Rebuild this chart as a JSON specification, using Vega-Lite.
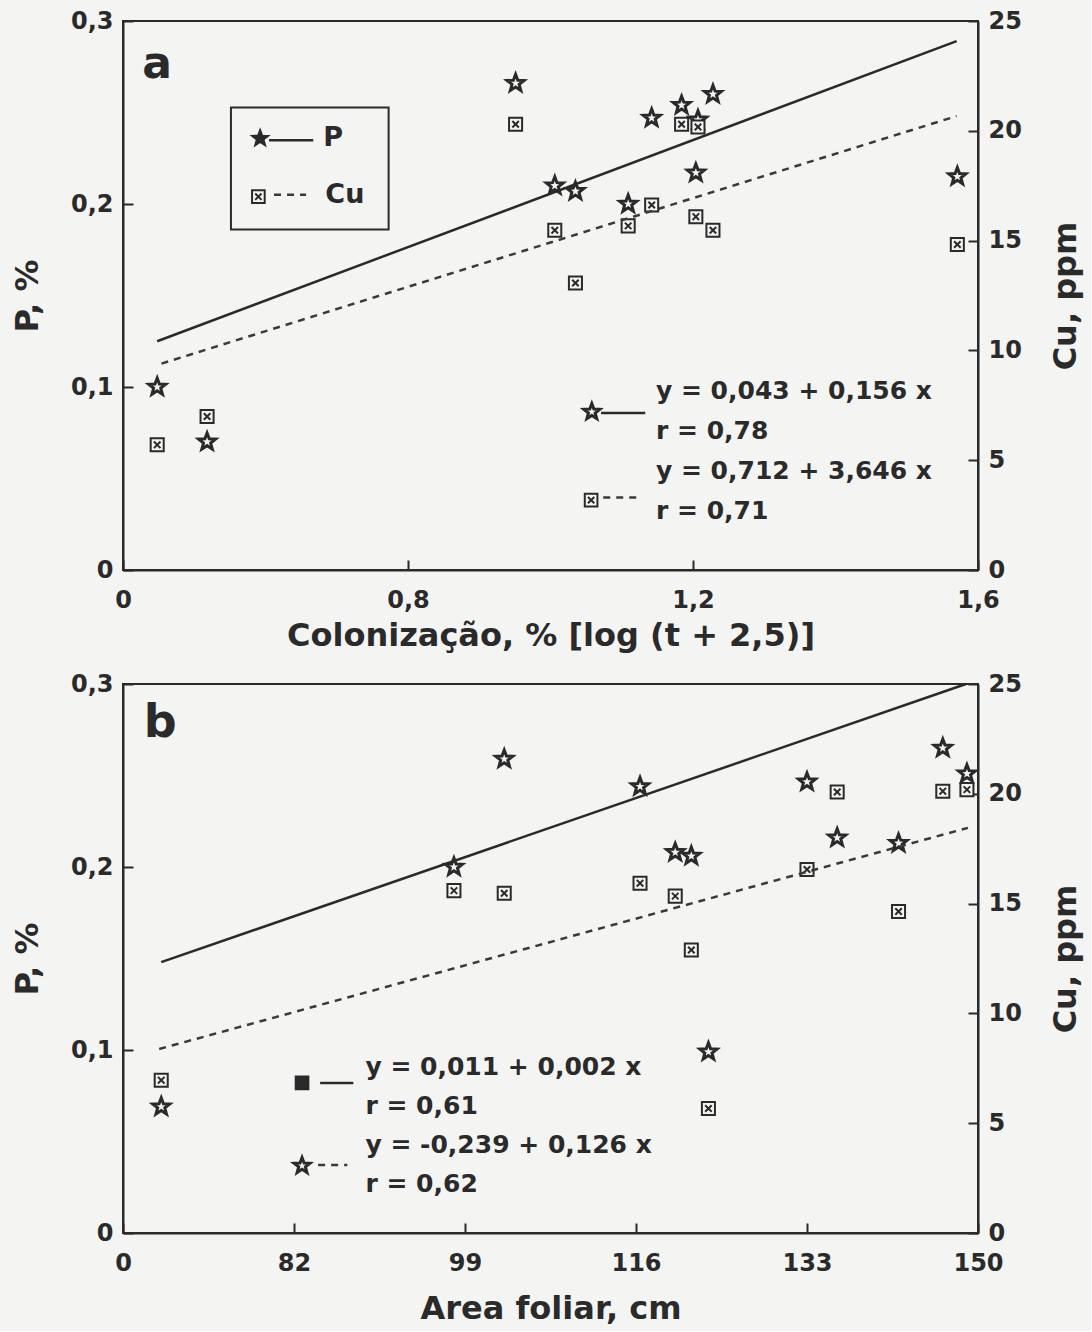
{
  "$schema": "https://vega.github.io/schema/vega-lite/v6.json",
  "background": "#f4f4f2",
  "padding": {"left": 10, "top": 8, "right": 8, "bottom": 6},
  "spacing": 19,
  "config": {
    "view": {"stroke": "#2a2a2a", "strokeWidth": 2},
    "axis": {
      "labelFont": "DejaVu Sans", "labelFontWeight": "bold", "labelFontSize": 24, "labelColor": "#2a2a2a",
      "titleFont": "DejaVu Sans", "titleFontWeight": "bold", "titleFontSize": 32, "titleColor": "#2a2a2a",
      "domainColor": "#2a2a2a", "domainWidth": 2, "tickColor": "#2a2a2a", "tickWidth": 2, "tickSize": -10,
      "grid": false, "labelFlush": false, "labelOverlap": false
    },
    "text": {"font": "DejaVu Sans", "fontWeight": "bold", "color": "#2a2a2a"}
  },
  "datasets": {
    "one": [{}],
    "a": [
      {"x": 0.448, "P": 0.100, "Cu": 5.70},
      {"x": 0.518, "P": 0.070, "Cu": 6.99},
      {"x": 0.951, "P": 0.266, "Cu": 20.3},
      {"x": 1.006, "P": 0.210, "Cu": 15.47},
      {"x": 1.035, "P": 0.207, "Cu": 13.07},
      {"x": 1.109, "P": 0.200, "Cu": 15.67},
      {"x": 1.142, "P": 0.247, "Cu": 16.62},
      {"x": 1.184, "P": 0.254, "Cu": 20.3},
      {"x": 1.204, "P": 0.217, "Cu": 16.09},
      {"x": 1.207, "P": 0.246, "Cu": 20.17},
      {"x": 1.228, "P": 0.260, "Cu": 15.47},
      {"x": 1.571, "P": 0.215, "Cu": 14.82}
    ],
    "a_fitP": [{"x": 0.448, "P": 0.125}, {"x": 1.570, "P": 0.289}],
    "a_fitCu": [{"x": 0.454, "Cu": 9.4}, {"x": 1.570, "Cu": 20.67}],
    "b": [
      {"x": 68.8, "P": 0.069, "Cu": 6.96},
      {"x": 97.9, "P": 0.200, "Cu": 15.59},
      {"x": 102.9, "P": 0.259, "Cu": 15.47},
      {"x": 116.4, "P": 0.244, "Cu": 15.93},
      {"x": 119.9, "P": 0.208, "Cu": 15.34},
      {"x": 121.5, "P": 0.206, "Cu": 12.89},
      {"x": 123.2, "P": 0.099, "Cu": 5.67},
      {"x": 133.0, "P": 0.2465, "Cu": 16.55},
      {"x": 136.0, "P": 0.216, "Cu": 20.08},
      {"x": 142.1, "P": 0.213, "Cu": 14.64},
      {"x": 146.5, "P": 0.265, "Cu": 20.12},
      {"x": 148.9, "P": 0.251, "Cu": 20.19}
    ],
    "b_fitP": [{"x": 68.8, "P": 0.148}, {"x": 148.8, "P": 0.300}],
    "b_fitCu": [{"x": 68.6, "Cu": 8.38}, {"x": 149.0, "Cu": 18.45}]
  },
  "vconcat": [
    {
      "width": 855, "height": 549,
      "resolve": {"scale": {"y": "independent"}},
      "layer": [
        {
          "layer": [
            {
              "data": {"name": "a"},
              "mark": {"type": "point", "shape": "M0,-1L0.247,-0.34L0.951,-0.309L0.399,0.13L0.588,0.809L0,0.42L-0.588,0.809L-0.399,0.13L-0.951,-0.309L-0.247,-0.34Z", "size": 320, "filled": true, "fill": "#f4f4f2", "stroke": "#2a2a2a", "strokeWidth": 3, "opacity": 1},
              "encoding": {
                "x": {"field": "x", "type": "quantitative", "scale": {"domain": [0.4, 1.6], "nice": false, "zero": false},
                  "axis": {"values": [0.4, 0.8, 1.2, 1.6], "labelExpr": "datum.value < 0.5 ? '0' : replace(format(datum.value, '.1f'), '.', ',')", "labelPadding": 28, "titlePadding": 8, "title": "Colonização, %  [log (t + 2,5)]"}},
                "y": {"field": "P", "type": "quantitative", "scale": {"domain": [0, 0.3], "nice": false},
                  "axis": {"values": [0, 0.1, 0.2, 0.3], "labelExpr": "datum.value == 0 ? '0' : replace(format(datum.value, '.1f'), '.', ',')", "labelPadding": 20, "titlePadding": 26, "title": "P, %"}}
              }
            },
            {
              "data": {"name": "a_fitP"},
              "mark": {"type": "line", "color": "#2a2a2a", "strokeWidth": 2.5},
              "encoding": {
                "x": {"field": "x", "type": "quantitative"},
                "y": {"field": "P", "type": "quantitative"}
              }
            },
            {
              "data": {"name": "one"},
              "mark": {"type": "text", "text": "a", "fontSize": 44, "align": "left", "baseline": "middle"},
              "encoding": {"x": {"datum": 0.427}, "y": {"datum": 0.276}}
            },
            {
              "data": {"name": "one"},
              "mark": {"type": "rect", "fillOpacity": 0, "stroke": "#2a2a2a", "strokeWidth": 2},
              "encoding": {"x": {"datum": 0.5515}, "x2": {"datum": 0.7728}, "y": {"datum": 0.2528}, "y2": {"datum": 0.186}}
            },
            {
              "data": {"name": "one"},
              "mark": {"type": "point", "shape": "M0,-1L0.247,-0.34L0.951,-0.309L0.399,0.13L0.588,0.809L0,0.42L-0.588,0.809L-0.399,0.13L-0.951,-0.309L-0.247,-0.34Z", "size": 280, "filled": true, "fill": "#2a2a2a", "stroke": "#2a2a2a", "strokeWidth": 2, "opacity": 1},
              "encoding": {"x": {"datum": 0.5925}, "y": {"datum": 0.2358}}
            },
            {
              "data": {"name": "one"},
              "mark": {"type": "rule", "color": "#2a2a2a", "strokeWidth": 2.5},
              "encoding": {"x": {"datum": 0.605}, "x2": {"datum": 0.667}, "y": {"datum": 0.2349}}
            },
            {
              "data": {"name": "one"},
              "mark": {"type": "text", "text": "P", "fontSize": 27, "align": "left", "baseline": "middle"},
              "encoding": {"x": {"datum": 0.681}, "y": {"datum": 0.2363}}
            },
            {
              "data": {"name": "one"},
              "mark": {"type": "point", "shape": "M-1,-1H1V1H-1Z M-0.5,-0.5L0.5,0.5 M0.5,-0.5L-0.5,0.5", "size": 160, "filled": true, "fill": "#f4f4f2", "stroke": "#2a2a2a", "strokeWidth": 2, "opacity": 1},
              "encoding": {"x": {"datum": 0.590}, "y": {"datum": 0.204}}
            },
            {
              "data": {"name": "one"},
              "mark": {"type": "rule", "color": "#3a3a3a", "strokeWidth": 2.5, "strokeDash": [7, 6]},
              "encoding": {"x": {"datum": 0.612}, "x2": {"datum": 0.657}, "y": {"datum": 0.2051}}
            },
            {
              "data": {"name": "one"},
              "mark": {"type": "text", "text": "Cu", "fontSize": 27, "align": "left", "baseline": "middle"},
              "encoding": {"x": {"datum": 0.684}, "y": {"datum": 0.2051}}
            },
            {
              "data": {"name": "one"},
              "mark": {"type": "point", "shape": "M0,-1L0.247,-0.34L0.951,-0.309L0.399,0.13L0.588,0.809L0,0.42L-0.588,0.809L-0.399,0.13L-0.951,-0.309L-0.247,-0.34Z", "size": 280, "filled": true, "fill": "#f4f4f2", "stroke": "#2a2a2a", "strokeWidth": 3, "opacity": 1},
              "encoding": {"x": {"datum": 1.058}, "y": {"datum": 0.0864}}
            },
            {
              "data": {"name": "one"},
              "mark": {"type": "rule", "color": "#2a2a2a", "strokeWidth": 2.5},
              "encoding": {"x": {"datum": 1.071}, "x2": {"datum": 1.133}, "y": {"datum": 0.0858}}
            },
            {
              "data": {"name": "one"},
              "mark": {"type": "point", "shape": "M-1,-1H1V1H-1Z M-0.5,-0.5L0.5,0.5 M0.5,-0.5L-0.5,0.5", "size": 160, "filled": true, "fill": "#f4f4f2", "stroke": "#2a2a2a", "strokeWidth": 2, "opacity": 1},
              "encoding": {"x": {"datum": 1.057}, "y": {"datum": 0.0382}}
            },
            {
              "data": {"name": "one"},
              "mark": {"type": "rule", "color": "#3a3a3a", "strokeWidth": 2.5, "strokeDash": [7, 6]},
              "encoding": {"x": {"datum": 1.074}, "x2": {"datum": 1.122}, "y": {"datum": 0.0396}}
            },
            {
              "data": {"name": "one"},
              "mark": {"type": "text", "text": ["y = 0,043 + 0,156 x", "r = 0,78", "y = 0,712 + 3,646 x", "r = 0,71"], "fontSize": 25, "lineHeight": 40, "align": "left", "baseline": "middle"},
              "encoding": {"x": {"datum": 1.148}, "y": {"datum": 0.0976}}
            }
          ]
        },
        {
          "layer": [
            {
              "data": {"name": "a"},
              "mark": {"type": "point", "shape": "M-1,-1H1V1H-1Z M-0.5,-0.5L0.5,0.5 M0.5,-0.5L-0.5,0.5", "size": 170, "filled": true, "fill": "#f4f4f2", "stroke": "#2a2a2a", "strokeWidth": 2, "opacity": 1},
              "encoding": {
                "x": {"field": "x", "type": "quantitative"},
                "y": {"field": "Cu", "type": "quantitative", "scale": {"domain": [0, 25], "nice": false},
                  "axis": {"orient": "right", "values": [0, 5, 10, 15, 20, 25], "labelPadding": 20, "titlePadding": 29, "titleAngle": 270, "titleBaseline": "top", "title": "Cu, ppm"}}
              }
            },
            {
              "data": {"name": "a_fitCu"},
              "mark": {"type": "line", "color": "#3a3a3a", "strokeWidth": 2.5, "strokeDash": [7, 6]},
              "encoding": {
                "x": {"field": "x", "type": "quantitative"},
                "y": {"field": "Cu", "type": "quantitative"}
              }
            }
          ]
        }
      ]
    },
    {
      "width": 855, "height": 549,
      "resolve": {"scale": {"y": "independent"}},
      "layer": [
        {
          "layer": [
            {
              "data": {"name": "b"},
              "mark": {"type": "point", "shape": "M0,-1L0.247,-0.34L0.951,-0.309L0.399,0.13L0.588,0.809L0,0.42L-0.588,0.809L-0.399,0.13L-0.951,-0.309L-0.247,-0.34Z", "size": 320, "filled": true, "fill": "#f4f4f2", "stroke": "#2a2a2a", "strokeWidth": 3, "opacity": 1},
              "encoding": {
                "x": {"field": "x", "type": "quantitative", "scale": {"domain": [65, 150], "nice": false, "zero": false},
                  "axis": {"values": [65, 82, 99, 116, 133, 150], "labelExpr": "datum.value == 65 ? '0' : datum.label", "labelPadding": 28, "titlePadding": 18, "title": "Area foliar, cm"}},
                "y": {"field": "P", "type": "quantitative", "scale": {"domain": [0, 0.3], "nice": false},
                  "axis": {"values": [0, 0.1, 0.2, 0.3], "labelExpr": "datum.value == 0 ? '0' : replace(format(datum.value, '.1f'), '.', ',')", "labelPadding": 20, "titlePadding": 26, "title": "P, %"}}
              }
            },
            {
              "data": {"name": "b_fitP"},
              "mark": {"type": "line", "color": "#2a2a2a", "strokeWidth": 2.5},
              "encoding": {
                "x": {"field": "x", "type": "quantitative"},
                "y": {"field": "P", "type": "quantitative"}
              }
            },
            {
              "data": {"name": "one"},
              "mark": {"type": "text", "text": "b", "fontSize": 46, "align": "left", "baseline": "middle"},
              "encoding": {"x": {"datum": 67.06}, "y": {"datum": 0.2785}}
            },
            {
              "data": {"name": "one"},
              "mark": {"type": "point", "shape": "M-1,-1H1V1H-1Z M-0.5,-0.5L0.5,0.5 M0.5,-0.5L-0.5,0.5", "size": 160, "filled": true, "fill": "#2a2a2a", "stroke": "#2a2a2a", "strokeWidth": 2, "opacity": 1},
              "encoding": {"x": {"datum": 82.8}, "y": {"datum": 0.082}}
            },
            {
              "data": {"name": "one"},
              "mark": {"type": "rule", "color": "#2a2a2a", "strokeWidth": 2.5},
              "encoding": {"x": {"datum": 84.6}, "x2": {"datum": 87.9}, "y": {"datum": 0.082}}
            },
            {
              "data": {"name": "one"},
              "mark": {"type": "point", "shape": "M0,-1L0.247,-0.34L0.951,-0.309L0.399,0.13L0.588,0.809L0,0.42L-0.588,0.809L-0.399,0.13L-0.951,-0.309L-0.247,-0.34Z", "size": 280, "filled": true, "fill": "#f4f4f2", "stroke": "#2a2a2a", "strokeWidth": 3, "opacity": 1},
              "encoding": {"x": {"datum": 82.8}, "y": {"datum": 0.0367}}
            },
            {
              "data": {"name": "one"},
              "mark": {"type": "rule", "color": "#3a3a3a", "strokeWidth": 2.5, "strokeDash": [7, 6]},
              "encoding": {"x": {"datum": 84.4}, "x2": {"datum": 87.3}, "y": {"datum": 0.0371}}
            },
            {
              "data": {"name": "one"},
              "mark": {"type": "text", "text": ["y = 0,011 + 0,002 x", "r = 0,61", "y = -0,239 + 0,126 x", "r = 0,62"], "fontSize": 25, "lineHeight": 39, "align": "left", "baseline": "middle"},
              "encoding": {"x": {"datum": 89.1}, "y": {"datum": 0.0908}}
            }
          ]
        },
        {
          "layer": [
            {
              "data": {"name": "b"},
              "mark": {"type": "point", "shape": "M-1,-1H1V1H-1Z M-0.5,-0.5L0.5,0.5 M0.5,-0.5L-0.5,0.5", "size": 170, "filled": true, "fill": "#f4f4f2", "stroke": "#2a2a2a", "strokeWidth": 2, "opacity": 1},
              "encoding": {
                "x": {"field": "x", "type": "quantitative"},
                "y": {"field": "Cu", "type": "quantitative", "scale": {"domain": [0, 25], "nice": false},
                  "axis": {"orient": "right", "values": [0, 5, 10, 15, 20, 25], "labelPadding": 20, "titlePadding": 29, "titleAngle": 270, "titleBaseline": "top", "title": "Cu, ppm"}}
              }
            },
            {
              "data": {"name": "b_fitCu"},
              "mark": {"type": "line", "color": "#3a3a3a", "strokeWidth": 2.5, "strokeDash": [7, 6]},
              "encoding": {
                "x": {"field": "x", "type": "quantitative"},
                "y": {"field": "Cu", "type": "quantitative"}
              }
            }
          ]
        }
      ]
    }
  ]
}
